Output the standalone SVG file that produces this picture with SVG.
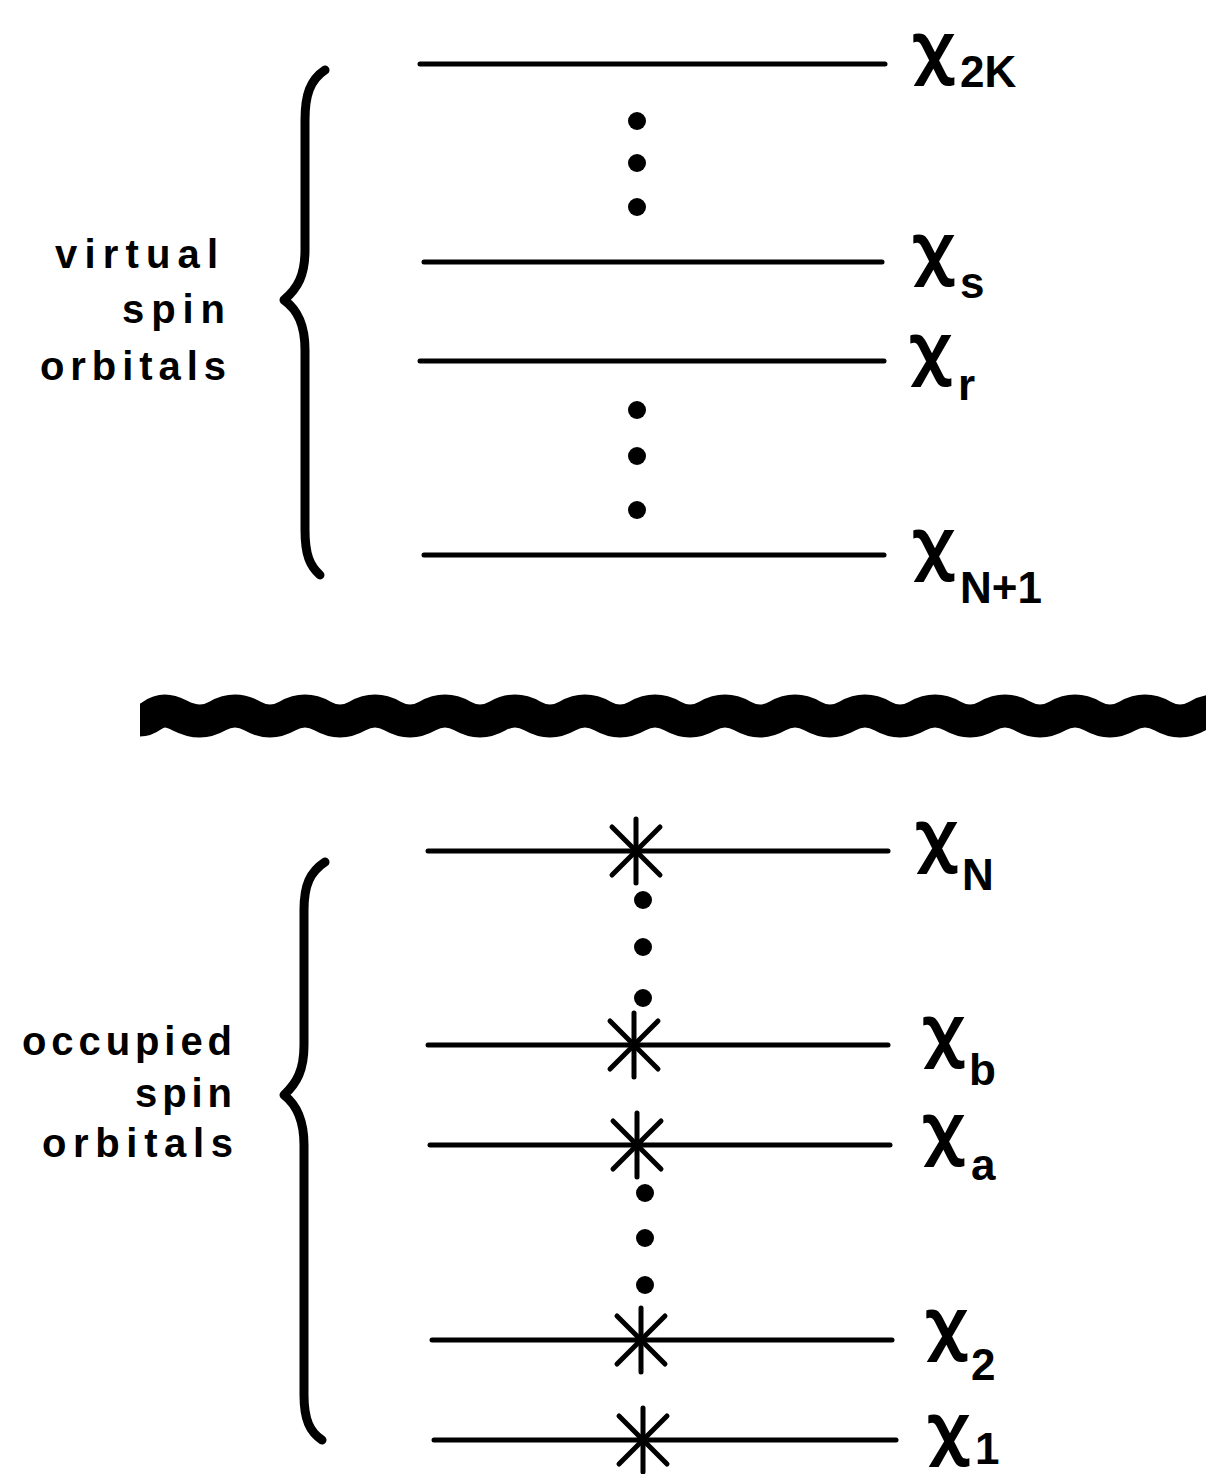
<svg xmlns="http://www.w3.org/2000/svg" width="1206" height="1474" viewBox="0 0 1206 1474">
<style>
.lvl{stroke:#000;stroke-width:5;stroke-linecap:round;fill:none}
.star{stroke:#000;stroke-width:5;stroke-linecap:round;fill:none}
.brace{stroke:#000;stroke-width:9;stroke-linecap:round;stroke-linejoin:round;fill:none}
.dot{fill:#000}
.chi{font-family:"Noto Sans",sans-serif;font-size:66px;font-weight:bold;fill:#000}
.sub{font-family:"Liberation Sans",sans-serif;font-size:44px;font-weight:bold;fill:#000}
.lab{font-family:"Liberation Sans",sans-serif;font-size:40px;font-weight:bold;fill:#000}
</style>
<defs>
<g id="asterisk">
<line class="star" x1="0" y1="-32" x2="0" y2="32"/>
<line class="star" x1="-24" y1="-24" x2="24" y2="24"/>
<line class="star" x1="24" y1="-24" x2="-24" y2="24"/>
</g>
</defs>

<g id="labels">
<text class="lab" x="55" y="268" textLength="163" lengthAdjust="spacing">virtual</text>
<text class="lab" x="122" y="323" textLength="103" lengthAdjust="spacing">spin</text>
<text class="lab" x="40" y="380" textLength="186" lengthAdjust="spacing">orbitals</text>
<text class="lab" x="22" y="1055" textLength="210" lengthAdjust="spacing">occupied</text>
<text class="lab" x="135" y="1107" textLength="97" lengthAdjust="spacing">spin</text>
<text class="lab" x="42" y="1157" textLength="191" lengthAdjust="spacing">orbitals</text>
</g>

<g id="braces">
<path class="brace" d="M325,70 C310,80 305,95 305,120 L305,250 C305,275 298,288 284,300 C298,310 305,325 305,350 L305,530 C305,555 310,566 320,575"/>
<path class="brace" d="M325,862 C310,872 304,885 304,910 L304,1045 C304,1070 297,1083 284,1095 C297,1105 304,1120 304,1145 L304,1395 C304,1420 310,1432 322,1440"/>
</g>

<g id="separator">
<path d="M140,720 C152,720 152,711 165,711 S182.5,721 200,721 S217.5,711 235,711 S252.5,721 270,721 S287.5,711 305,711 S322.5,721 340,721 S357.5,711 375,711 S392.5,721 410,721 S427.5,711 445,711 S462.5,721 480,721 S497.5,711 515,711 S532.5,721 550,721 S567.5,711 585,711 S602.5,721 620,721 S637.5,711 655,711 S672.5,721 690,721 S707.5,711 725,711 S742.5,721 760,721 S777.5,711 795,711 S812.5,721 830,721 S847.5,711 865,711 S882.5,721 900,721 S917.5,711 935,711 S952.5,721 970,721 S987.5,711 1005,711 S1022.5,721 1040,721 S1057.5,711 1075,711 S1092.5,721 1110,721 S1127.5,711 1145,711 S1162.5,721 1180,721 S1197.5,711 1215,711 S1232.5,721 1250,721" fill="none" stroke="#000" stroke-width="33"/>
</g>

<g id="level-2K">
<line class="lvl" x1="420" y1="64" x2="885" y2="64"/>
<text class="chi" x="913" y="70">χ</text><text class="sub" x="960" y="87">2K</text>
</g>
<g id="dots-upper-1">
<circle class="dot" cx="637" cy="121" r="9"/>
<circle class="dot" cx="637" cy="163" r="9"/>
<circle class="dot" cx="637" cy="207" r="9"/>
</g>
<g id="level-s">
<line class="lvl" x1="424" y1="262" x2="882" y2="262"/>
<text class="chi" x="913" y="271">χ</text><text class="sub" x="960" y="298">s</text>
</g>
<g id="level-r">
<line class="lvl" x1="420" y1="361" x2="884" y2="361"/>
<text class="chi" x="910" y="371">χ</text><text class="sub" x="958" y="400">r</text>
</g>
<g id="dots-upper-2">
<circle class="dot" cx="637" cy="410" r="9"/>
<circle class="dot" cx="637" cy="456" r="9"/>
<circle class="dot" cx="637" cy="510" r="9"/>
</g>
<g id="level-N1">
<line class="lvl" x1="424" y1="555" x2="884" y2="555"/>
<text class="chi" x="913" y="566">χ</text><text class="sub" x="960" y="603">N+1</text>
</g>

<g id="level-N">
<line class="lvl" x1="428" y1="851" x2="888" y2="851"/>
<use href="#asterisk" x="636" y="851"/>
<text class="chi" x="916" y="858">χ</text><text class="sub" x="962" y="890">N</text>
</g>
<g id="dots-lower-1">
<circle class="dot" cx="643" cy="900" r="9"/>
<circle class="dot" cx="643" cy="947" r="9"/>
<circle class="dot" cx="643" cy="998" r="9"/>
</g>
<g id="level-b">
<line class="lvl" x1="428" y1="1045" x2="888" y2="1045"/>
<use href="#asterisk" x="634" y="1045"/>
<text class="chi" x="923" y="1053">χ</text><text class="sub" x="969" y="1085">b</text>
</g>
<g id="level-a">
<line class="lvl" x1="430" y1="1145" x2="890" y2="1145"/>
<use href="#asterisk" x="637" y="1145"/>
<text class="chi" x="923" y="1151">χ</text><text class="sub" x="971" y="1180">a</text>
</g>
<g id="dots-lower-2">
<circle class="dot" cx="645" cy="1193" r="9"/>
<circle class="dot" cx="645" cy="1238" r="9"/>
<circle class="dot" cx="645" cy="1285" r="9"/>
</g>
<g id="level-2">
<line class="lvl" x1="432" y1="1340" x2="892" y2="1340"/>
<use href="#asterisk" x="641" y="1340"/>
<text class="chi" x="926" y="1346">χ</text><text class="sub" x="971" y="1380">2</text>
</g>
<g id="level-1">
<line class="lvl" x1="434" y1="1440" x2="896" y2="1440"/>
<use href="#asterisk" x="643" y="1440"/>
<text class="chi" x="928" y="1451">χ</text><text class="sub" x="975" y="1464" font-size="40">1</text>
</g>
</svg>
